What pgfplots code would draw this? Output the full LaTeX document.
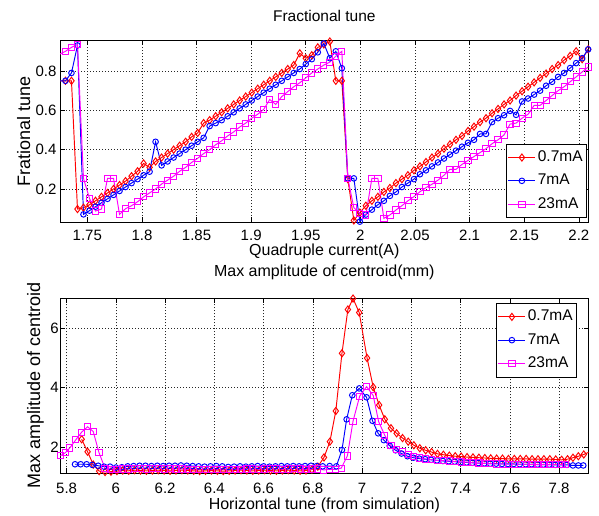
\documentclass[border=0pt]{standalone}
\usepackage{pgfplots}
\pgfplotsset{compat=1.18}
\usepackage{pgfplotstable}
\usepackage{fontspec}
\setmainfont{Liberation Sans}

\definecolor{mred}{RGB}{255,0,0}
\definecolor{mblue}{RGB}{0,0,255}
\definecolor{mmag}{RGB}{255,0,255}

% top panel: fractional tune vs quadrupole current
\pgfplotstableread{
x y
1.7245 0.75
1.7300 0.75
1.7355 0.75
1.7410 0.098
1.7465 0.105
1.7520 0.12
1.7575 0.14
1.7630 0.16
1.7685 0.18
1.7740 0.20
1.7795 0.22
1.7850 0.24
1.7905 0.265
1.7960 0.29
1.8015 0.33
1.8070 0.31
1.8125 0.34
1.8180 0.36
1.8235 0.38
1.8290 0.40
1.8345 0.42
1.8400 0.44
1.8455 0.465
1.8510 0.485
1.8565 0.535
1.8620 0.55
1.8675 0.57
1.8730 0.59
1.8785 0.61
1.8840 0.63
1.8895 0.65
1.8950 0.67
1.9005 0.69
1.9060 0.71
1.9115 0.73
1.9170 0.75
1.9225 0.77
1.9280 0.79
1.9335 0.81
1.9390 0.83
1.9445 0.89
1.9500 0.865
1.9555 0.88
1.9610 0.92
1.9665 0.935
1.9720 0.95
1.9775 0.75
1.9830 0.75
1.9885 0.25
1.9940 0.04
1.9995 0.08
2.0050 0.115
2.0105 0.14
2.0160 0.16
2.0215 0.185
2.0270 0.205
2.0325 0.23
2.0380 0.25
2.0435 0.27
2.0490 0.295
2.0545 0.315
2.0600 0.337
2.0655 0.36
2.0710 0.38
2.0765 0.405
2.0820 0.427
2.0875 0.45
2.0930 0.47
2.0985 0.495
2.1040 0.517
2.1095 0.54
2.1150 0.56
2.1205 0.585
2.1260 0.607
2.1315 0.63
2.1370 0.65
2.1425 0.675
2.1480 0.697
2.1535 0.72
2.1590 0.742
2.1645 0.765
2.1700 0.787
2.1755 0.81
2.1810 0.83
2.1865 0.855
2.1920 0.877
2.1975 0.90
2.2030 0.86
2.2085 0.91
}\topred

\pgfplotstableread{
x y
1.7245 0.75
1.7300 0.75
1.7355 0.79
1.7410 0.93
1.7465 0.071
1.7520 0.09
1.7575 0.11
1.7630 0.13
1.7685 0.15
1.7740 0.17
1.7795 0.19
1.7850 0.21
1.7905 0.23
1.7960 0.25
1.8015 0.27
1.8070 0.288
1.8125 0.44
1.8180 0.32
1.8235 0.34
1.8290 0.36
1.8345 0.38
1.8400 0.40
1.8455 0.42
1.8510 0.44
1.8565 0.46
1.8620 0.52
1.8675 0.535
1.8730 0.55
1.8785 0.57
1.8840 0.59
1.8895 0.61
1.8950 0.63
1.9005 0.65
1.9060 0.67
1.9115 0.69
1.9170 0.71
1.9225 0.73
1.9280 0.75
1.9335 0.77
1.9390 0.79
1.9445 0.81
1.9500 0.835
1.9555 0.86
1.9610 0.895
1.9665 0.94
1.9720 0.865
1.9775 0.90
1.9830 0.814
1.9885 0.254
1.9940 0.254
1.9995 0.034
2.0050 0.07
2.0105 0.095
2.0160 0.12
2.0215 0.14
2.0270 0.165
2.0325 0.185
2.0380 0.21
2.0435 0.23
2.0490 0.25
2.0545 0.275
2.0600 0.295
2.0655 0.315
2.0710 0.335
2.0765 0.355
2.0820 0.375
2.0875 0.395
2.0930 0.415
2.0985 0.435
2.1040 0.45
2.1095 0.48
2.1150 0.48
2.1205 0.54
2.1260 0.56
2.1315 0.575
2.1370 0.597
2.1425 0.577
2.1480 0.645
2.1535 0.66
2.1590 0.68
2.1645 0.70
2.1700 0.725
2.1755 0.745
2.1810 0.77
2.1865 0.79
2.1920 0.815
2.1975 0.84
2.2030 0.865
2.2085 0.91
}\topblue

\pgfplotstableread{
x y
1.7245 0.885
1.7300 0.90
1.7355 0.92
1.7410 0.935
1.7465 0.254
1.7520 0.152
1.7575 0.088
1.7630 0.098
1.7685 0.254
1.7740 0.254
1.7795 0.071
1.7850 0.10
1.7905 0.115
1.7960 0.135
1.8015 0.16
1.8070 0.18
1.8125 0.20
1.8180 0.225
1.8235 0.245
1.8290 0.265
1.8345 0.29
1.8400 0.31
1.8455 0.335
1.8510 0.356
1.8565 0.38
1.8620 0.40
1.8675 0.425
1.8730 0.445
1.8785 0.47
1.8840 0.49
1.8895 0.515
1.8950 0.535
1.9005 0.56
1.9060 0.58
1.9115 0.605
1.9170 0.655
1.9225 0.63
1.9280 0.67
1.9335 0.695
1.9390 0.72
1.9445 0.74
1.9500 0.765
1.9555 0.79
1.9610 0.81
1.9665 0.83
1.9720 0.845
1.9775 0.875
1.9830 0.90
1.9885 0.254
1.9940 0.105
1.9995 0.076
2.0050 0.068
2.0105 0.254
2.0160 0.254
2.0215 0.051
2.0270 0.068
2.0325 0.093
2.0380 0.115
2.0435 0.14
2.0490 0.161
2.0545 0.186
2.0600 0.207
2.0655 0.224
2.0710 0.245
2.0765 0.27
2.0820 0.30
2.0875 0.30
2.0930 0.325
2.0985 0.345
2.1040 0.365
2.1095 0.385
2.1150 0.405
2.1205 0.43
2.1260 0.45
2.1315 0.475
2.1370 0.53
2.1425 0.535
2.1480 0.56
2.1535 0.58
2.1590 0.625
2.1645 0.625
2.1700 0.65
2.1755 0.675
2.1810 0.70
2.1865 0.72
2.1920 0.745
2.1975 0.77
2.2030 0.795
2.2085 0.82
}\topmag

% bottom panel: max centroid amplitude vs horizontal tune
\pgfplotstableread{
x y
5.861 2.27
5.885 1.85
5.908 1.42
5.932 1.20
5.956 1.17
5.980 1.18
6.004 1.20
6.028 1.22
6.052 1.21
6.076 1.23
6.100 1.22
6.124 1.21
6.148 1.22
6.172 1.23
6.196 1.22
6.220 1.21
6.244 1.22
6.268 1.23
6.292 1.22
6.316 1.21
6.340 1.20
6.364 1.21
6.388 1.22
6.412 1.21
6.436 1.20
6.460 1.21
6.484 1.22
6.508 1.23
6.532 1.22
6.556 1.21
6.580 1.22
6.604 1.23
6.628 1.22
6.652 1.21
6.676 1.22
6.700 1.23
6.724 1.22
6.748 1.21
6.772 1.22
6.796 1.25
6.820 1.35
6.845 1.66
6.869 2.19
6.893 3.22
6.918 5.16
6.942 6.63
6.963 7.00
6.988 6.53
7.020 5.00
7.045 4.02
7.069 3.42
7.092 2.94
7.117 2.64
7.140 2.47
7.164 2.31
7.187 2.19
7.210 2.07
7.234 1.97
7.258 1.90
7.282 1.84
7.306 1.78
7.330 1.75
7.354 1.72
7.378 1.70
7.402 1.69
7.426 1.67
7.450 1.66
7.474 1.65
7.498 1.64
7.522 1.63
7.546 1.62
7.570 1.62
7.594 1.61
7.618 1.61
7.642 1.61
7.666 1.61
7.690 1.60
7.714 1.60
7.738 1.60
7.762 1.60
7.786 1.59
7.810 1.58
7.834 1.60
7.856 1.65
7.878 1.70
7.900 1.76
7.922 1.84
}\botred

\pgfplotstableread{
x y
5.834 1.43
5.857 1.43
5.881 1.43
5.904 1.41
5.928 1.38
5.952 1.35
5.976 1.35
6.000 1.32
6.024 1.33
6.048 1.36
6.072 1.37
6.096 1.38
6.120 1.38
6.144 1.37
6.168 1.38
6.192 1.37
6.216 1.38
6.240 1.38
6.264 1.39
6.288 1.38
6.312 1.37
6.336 1.36
6.360 1.35
6.384 1.36
6.408 1.37
6.432 1.36
6.456 1.34
6.480 1.35
6.504 1.36
6.528 1.35
6.552 1.36
6.576 1.37
6.600 1.36
6.624 1.35
6.648 1.36
6.672 1.37
6.696 1.36
6.720 1.37
6.744 1.36
6.768 1.37
6.792 1.38
6.816 1.37
6.840 1.36
6.868 1.37
6.895 1.36
6.918 1.91
6.937 2.94
6.960 3.75
6.988 3.98
7.018 3.68
7.042 2.89
7.065 2.47
7.088 2.24
7.112 2.05
7.136 1.90
7.160 1.79
7.184 1.70
7.208 1.65
7.232 1.62
7.256 1.60
7.280 1.58
7.304 1.56
7.328 1.54
7.352 1.53
7.376 1.52
7.400 1.50
7.424 1.49
7.448 1.48
7.472 1.47
7.496 1.46
7.520 1.45
7.544 1.45
7.568 1.44
7.592 1.44
7.616 1.44
7.640 1.43
7.664 1.43
7.688 1.43
7.712 1.42
7.736 1.42
7.760 1.42
7.784 1.41
7.808 1.41
7.832 1.41
7.856 1.39
7.878 1.39
7.898 1.39
}\botblue

\pgfplotstableread{
x y
5.775 1.72
5.795 1.82
5.813 1.98
5.837 2.25
5.861 2.51
5.885 2.69
5.908 2.53
5.931 1.83
5.956 1.29
5.980 1.26
6.004 1.25
6.028 1.27
6.052 1.27
6.076 1.28
6.100 1.28
6.124 1.27
6.148 1.28
6.172 1.28
6.196 1.27
6.220 1.28
6.244 1.27
6.268 1.27
6.292 1.26
6.316 1.26
6.340 1.25
6.364 1.26
6.388 1.25
6.412 1.26
6.436 1.25
6.460 1.25
6.484 1.26
6.508 1.26
6.532 1.27
6.556 1.27
6.580 1.26
6.604 1.27
6.628 1.28
6.652 1.27
6.676 1.26
6.700 1.27
6.724 1.28
6.748 1.27
6.772 1.26
6.796 1.27
6.820 1.27
6.844 1.24
6.868 1.26
6.892 1.26
6.915 1.30
6.940 1.71
6.963 2.88
6.990 3.72
7.018 4.04
7.045 3.74
7.067 2.86
7.092 2.40
7.117 2.05
7.140 1.94
7.164 1.85
7.187 1.77
7.210 1.70
7.234 1.64
7.258 1.61
7.282 1.58
7.306 1.56
7.330 1.55
7.354 1.54
7.378 1.52
7.402 1.51
7.426 1.50
7.450 1.48
7.474 1.47
7.498 1.46
7.522 1.45
7.546 1.44
7.570 1.44
7.594 1.43
7.618 1.43
7.642 1.43
7.666 1.43
7.690 1.42
7.714 1.42
7.738 1.42
7.762 1.42
7.786 1.42
7.810 1.42
7.826 1.41
}\botmag

\pgfplotsset{
  matlab/.style={
    scale only axis, width=528.7pt,
    axis line style={black, line width=0.8pt},
    tick align=inside, major tick length=5pt,
    tick style={black, line width=0.7pt},
    grid=major,
    major grid style={black!85, line width=0.6pt, dash pattern=on 1.3pt off 1.7pt},
    /pgf/number format/assume math mode=true,
    ticklabel style={font=\fontsize{15}{18}\selectfont},
    xticklabel style={anchor=base},
    legend cell align=left,
    legend image code/.code={\draw[mark repeat=2,mark phase=2,##1] plot coordinates {(0pt,0pt) (13.5pt,0pt) (27pt,0pt)};},
    legend style={draw=black, line width=0.7pt, fill=white,
      font=\fontsize{15.5}{18}\selectfont,
      inner xsep=2pt, inner ysep=4pt, row sep=4.3pt,
      nodes={inner sep=2pt, text height=11.5pt, text depth=3.5pt}},
  },
  sred/.style={color=mred, line width=0.95pt, mark=diamond, mark size=3.6pt, mark options={solid, fill=none}},
  sblue/.style={color=mblue, line width=0.95pt, mark=o, mark size=2.8pt, mark options={solid}},
  smag/.style={color=mmag, line width=0.95pt, mark=square, mark size=3.1pt, mark options={solid}},
}

\begin{document}
\begin{tikzpicture}
\useasboundingbox (0,0) rectangle (599pt,515pt);

\begin{axis}[matlab,
  at={(60pt,293pt)}, anchor=south west, height=182pt,
  xmin=1.725, xmax=2.209, ymin=0.0322, ymax=0.9575,
  xtick={1.75,1.8,1.85,1.9,1.95,2,2.05,2.1,2.15,2.2},
  ytick={0.2,0.4,0.6,0.8},
  xticklabel style={yshift=-18.7pt},
  title={Fractional tune},
  title style={at={(axis description cs:0.5,1.0714)}, anchor=base, font=\fontsize{15.5}{18}\selectfont},
  xlabel={Quadruple current(A)},
  xlabel style={at={(axis description cs:0.5,-0.1868)}, anchor=base, font=\fontsize{16}{19}\selectfont},
  ylabel={Frational tune},
  ylabel style={at={(axis description cs:-0.0567,0.5)}, anchor=base, font=\fontsize{18}{21}\selectfont},
  legend style={at={(axis description cs:0.9968,0.022)}, anchor=south east},
]
\addplot[sred] table {\topred};
\addplot[sblue] table {\topblue};
\addplot[smag] table {\topmag};
\legend{0.7mA,7mA,23mA}
\end{axis}

\begin{axis}[matlab,
  at={(60pt,41.7pt)}, anchor=south west, height=175pt,
  xmin=5.773, xmax=7.92, ymin=1.126, ymax=7.008,
  xtick={5.8,6,6.2,6.4,6.6,6.8,7,7.2,7.4,7.6,7.8},
  ytick={2,4,6},
  xticklabel style={yshift=-19.7pt},
  yticklabel style={inner sep=1.2pt},
  title={Max amplitude of centroid(mm)},
  title style={at={(axis description cs:0.5,1.093)}, anchor=base, font=\fontsize{16}{19}\selectfont},
  xlabel={Horizontal tune (from simulation)},
  xlabel style={at={(axis description cs:0.5,-0.204)}, anchor=base, font=\fontsize{16}{19}\selectfont},
  ylabel={Max amplitude of centroid},
  ylabel style={at={(axis description cs:-0.0378,0.5)}, anchor=base, font=\fontsize{18}{21}\selectfont},
  legend style={at={(axis description cs:0.9779,0.9731)}, anchor=north east},
]
\addplot[sred] table {\botred};
\addplot[sblue] table {\botblue};
\addplot[smag] table {\botmag};
\legend{0.7mA,7mA,23mA}
\end{axis}
\end{tikzpicture}
\end{document}
